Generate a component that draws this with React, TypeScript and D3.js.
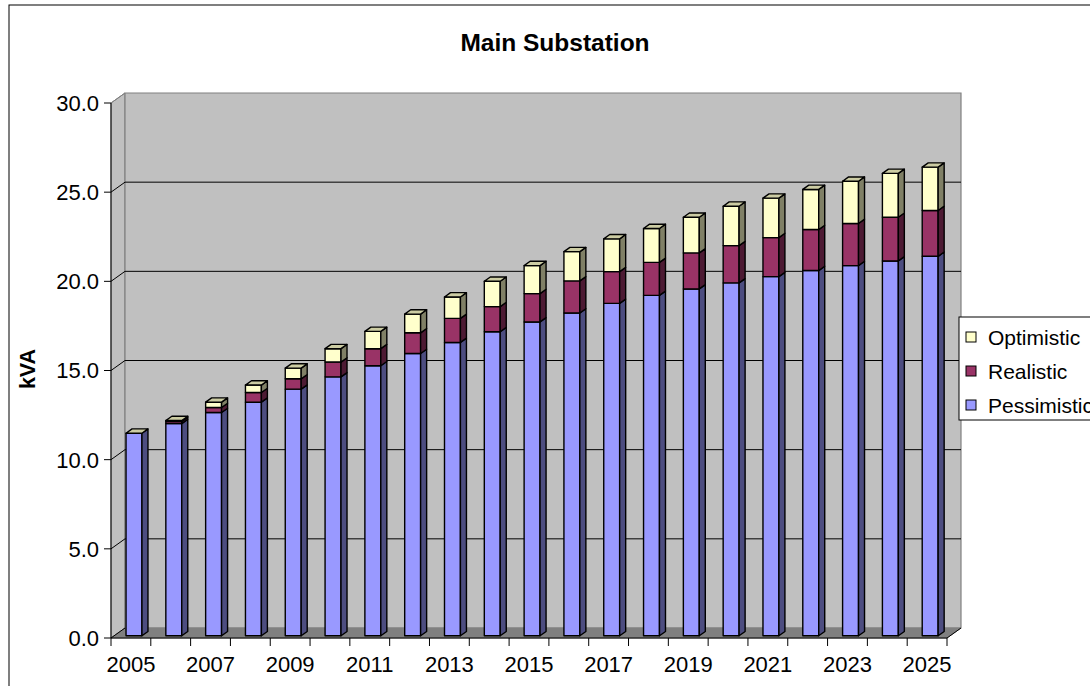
import React from "react";
import * as d3 from "d3";

// Load forecast for the main substation, stacked per scenario (kVA)
const years = [
  "2005", "2006", "2007", "2008", "2009", "2010", "2011", "2012", "2013", "2014", "2015",
  "2016", "2017", "2018", "2019", "2020", "2021", "2022", "2023", "2024", "2025",
];
const pessimistic = [
  11.36, 11.9, 12.52, 13.1, 13.83, 14.52, 15.14, 15.83, 16.45, 17.05, 17.6,
  18.1, 18.64, 19.09, 19.45, 19.79, 20.14, 20.48, 20.76, 21.02, 21.28,
];
const realistic = [
  0, 0.12, 0.28, 0.54, 0.58, 0.83, 0.96, 1.16, 1.35, 1.41, 1.59,
  1.8, 1.78, 1.85, 2.02, 2.09, 2.19, 2.3, 2.36, 2.45, 2.57,
];
const optimistic = [
  0, 0.05, 0.3, 0.42, 0.6, 0.75, 0.97, 1.05, 1.2, 1.42, 1.57,
  1.64, 1.84, 1.9, 2.0, 2.21, 2.21, 2.25, 2.37, 2.46, 2.43,
];
const yTicks = [0, 5, 10, 15, 20, 25, 30];
const seriesNames = ["Pessimistic", "Realistic", "Optimistic"];

const W = 1090;
const H = 686;
const FONT = "'Liberation Sans', Arial, Helvetica, sans-serif";

// oblique projection of the depth axis
const DX = 14;
const DY = 10;
const Z0 = 0.22;
const Z1 = 0.65;

const faces: Record<string, { front: string; side: string; top: string }> = {
  Pessimistic: { front: "#9999FF", side: "#4D4D80", top: "#7A7ACC" },
  Realistic: { front: "#993366", side: "#4D1A33", top: "#7A2952" },
  Optimistic: { front: "#FFFFCC", side: "#808066", top: "#CCCCA3" },
};

export default function App() {
  const left = 111;
  const right = 947;
  const y0 = 638;
  const yTop = 103;

  const x = d3
    .scaleBand<string>()
    .domain(years)
    .range([left, right])
    .paddingInner(0.6)
    .paddingOuter(0.3);
  const y = d3.scaleLinear().domain([0, 30]).range([y0, yTop]);
  const step = x.step();
  const bw = x.bandwidth();

  const rows = years.map((yr, i) => ({
    year: yr,
    Pessimistic: pessimistic[i],
    Realistic: realistic[i],
    Optimistic: optimistic[i],
  }));
  const stacked = d3.stack<any>().keys(seriesNames)(rows);

  const pt = (px: number, py: number, z: number) =>
    `${px + z * DX},${py - z * DY}`;

  const bars: React.ReactNode[] = [];
  years.forEach((yr, i) => {
    const x0 = x(yr)!;
    const x1 = x0 + bw;
    stacked.forEach((s, si) => {
      const [v0, v1] = s[i];
      const c = faces[s.key];
      const ya = y(v0);
      const yb = y(v1);
      const isTop = si === stacked.length - 1;
      bars.push(
        <g key={`${yr}-${s.key}`} stroke="#000" strokeWidth={1.4} strokeLinejoin="round">
          {v1 > v0 && (
            <polygon
              points={[pt(x0, ya, Z0), pt(x1, ya, Z0), pt(x1, yb, Z0), pt(x0, yb, Z0)].join(" ")}
              fill={c.front}
            />
          )}
          {v1 > v0 && (
            <polygon
              points={[pt(x1, ya, Z0), pt(x1, ya, Z1), pt(x1, yb, Z1), pt(x1, yb, Z0)].join(" ")}
              fill={c.side}
            />
          )}
          {isTop && (
            <polygon
              points={[pt(x0, yb, Z0), pt(x0, yb, Z1), pt(x1, yb, Z1), pt(x1, yb, Z0)].join(" ")}
              fill={c.top}
            />
          )}
        </g>
      );
    });
  });

  const legendRows = ["Optimistic", "Realistic", "Pessimistic"];

  return (
    <svg
      width={W}
      height={H}
      style={{ position: "absolute", left: 0, top: 0, background: "#fff" }}
      fontFamily={FONT}
    >
      {/* chart area frame */}
      <rect x={9} y={5} width={W + 20} height={H + 20} fill="#fff" stroke="#000" strokeWidth={1} />

      <text x={555} y={51} textAnchor="middle" fontSize={24.5} fontWeight="bold">
        Main Substation
      </text>

      {/* side wall */}
      <polygon
        points={[pt(left, y0, 0), pt(left, y0, 1), pt(left, yTop, 1), pt(left, yTop, 0)].join(" ")}
        fill="#C0C0C0"
        stroke="#808080"
        strokeWidth={1}
      />
      {/* back wall */}
      <polygon
        points={[pt(left, y0, 1), pt(right, y0, 1), pt(right, yTop, 1), pt(left, yTop, 1)].join(" ")}
        fill="#C0C0C0"
        stroke="#808080"
        strokeWidth={1.2}
      />
      {/* floor */}
      <polygon
        points={[pt(left, y0, 0), pt(right, y0, 0), pt(right, y0, 1), pt(left, y0, 1)].join(" ")}
        fill="#808080"
        stroke="#808080"
        strokeWidth={1}
      />
      <line
        x1={right}
        y1={y0}
        x2={right + DX}
        y2={y0 - DY}
        stroke="#000"
        strokeWidth={1}
      />

      {/* gridlines on side and back walls */}
      {yTicks
        .filter((t) => t > 0 && t < 30)
        .map((t) => (
          <g key={`g${t}`} stroke="#000" strokeWidth={1}>
            <line x1={left} y1={y(t)} x2={left + DX} y2={y(t) - DY} />
            <line x1={left + DX} y1={y(t) - DY} x2={right + DX} y2={y(t) - DY} />
          </g>
        ))}
      {yTicks
        .filter((t) => t === 0 || t === 30)
        .map((t) => (
          <line
            key={`e${t}`}
            x1={left}
            y1={y(t)}
            x2={left + DX}
            y2={y(t) - DY}
            stroke={t === 0 ? "#000" : "#808080"}
            strokeWidth={1}
          />
        ))}

      {bars}

      {/* value axis */}
      <line x1={left} y1={y0} x2={left} y2={yTop} stroke="#000" strokeWidth={1} />
      {yTicks.map((t) => (
        <g key={`yt${t}`}>
          <line x1={left - 7} y1={y(t)} x2={left} y2={y(t)} stroke="#000" strokeWidth={1} />
          <text x={99} y={y(t)} dy="0.36em" textAnchor="end" fontSize={22}>
            {d3.format(".1f")(t)}
          </text>
        </g>
      ))}
      <text
        transform={`translate(35,369) rotate(-90)`}
        textAnchor="middle"
        fontSize={21.5}
        fontWeight="bold"
      >
        kVA
      </text>

      {/* category axis */}
      <line x1={left} y1={y0} x2={right} y2={y0} stroke="#000" strokeWidth={1} />
      {d3.range(years.length + 1).map((k) => (
        <line
          key={`xt${k}`}
          x1={left + k * step}
          y1={y0}
          x2={left + k * step}
          y2={y0 + 8}
          stroke="#000"
          strokeWidth={1}
        />
      ))}
      {years.map((yr, i) =>
        i % 2 === 0 ? (
          <text key={`xl${yr}`} x={left + (i + 0.5) * step} y={672} textAnchor="middle" fontSize={22}>
            {yr}
          </text>
        ) : null
      )}

      {/* legend */}
      <rect x={959} y={317} width={200} height={103} fill="#fff" stroke="#000" strokeWidth={1} />
      {legendRows.map((name, i) => {
        const cy = 337 + i * 34;
        return (
          <g key={`lg${name}`}>
            <rect x={966} y={cy - 5} width={10} height={10} fill={faces[name].front} stroke="#000" strokeWidth={1} />
            <text x={988} y={cy} dy="0.36em" fontSize={21}>
              {name}
            </text>
          </g>
        );
      })}
    </svg>
  );
}
